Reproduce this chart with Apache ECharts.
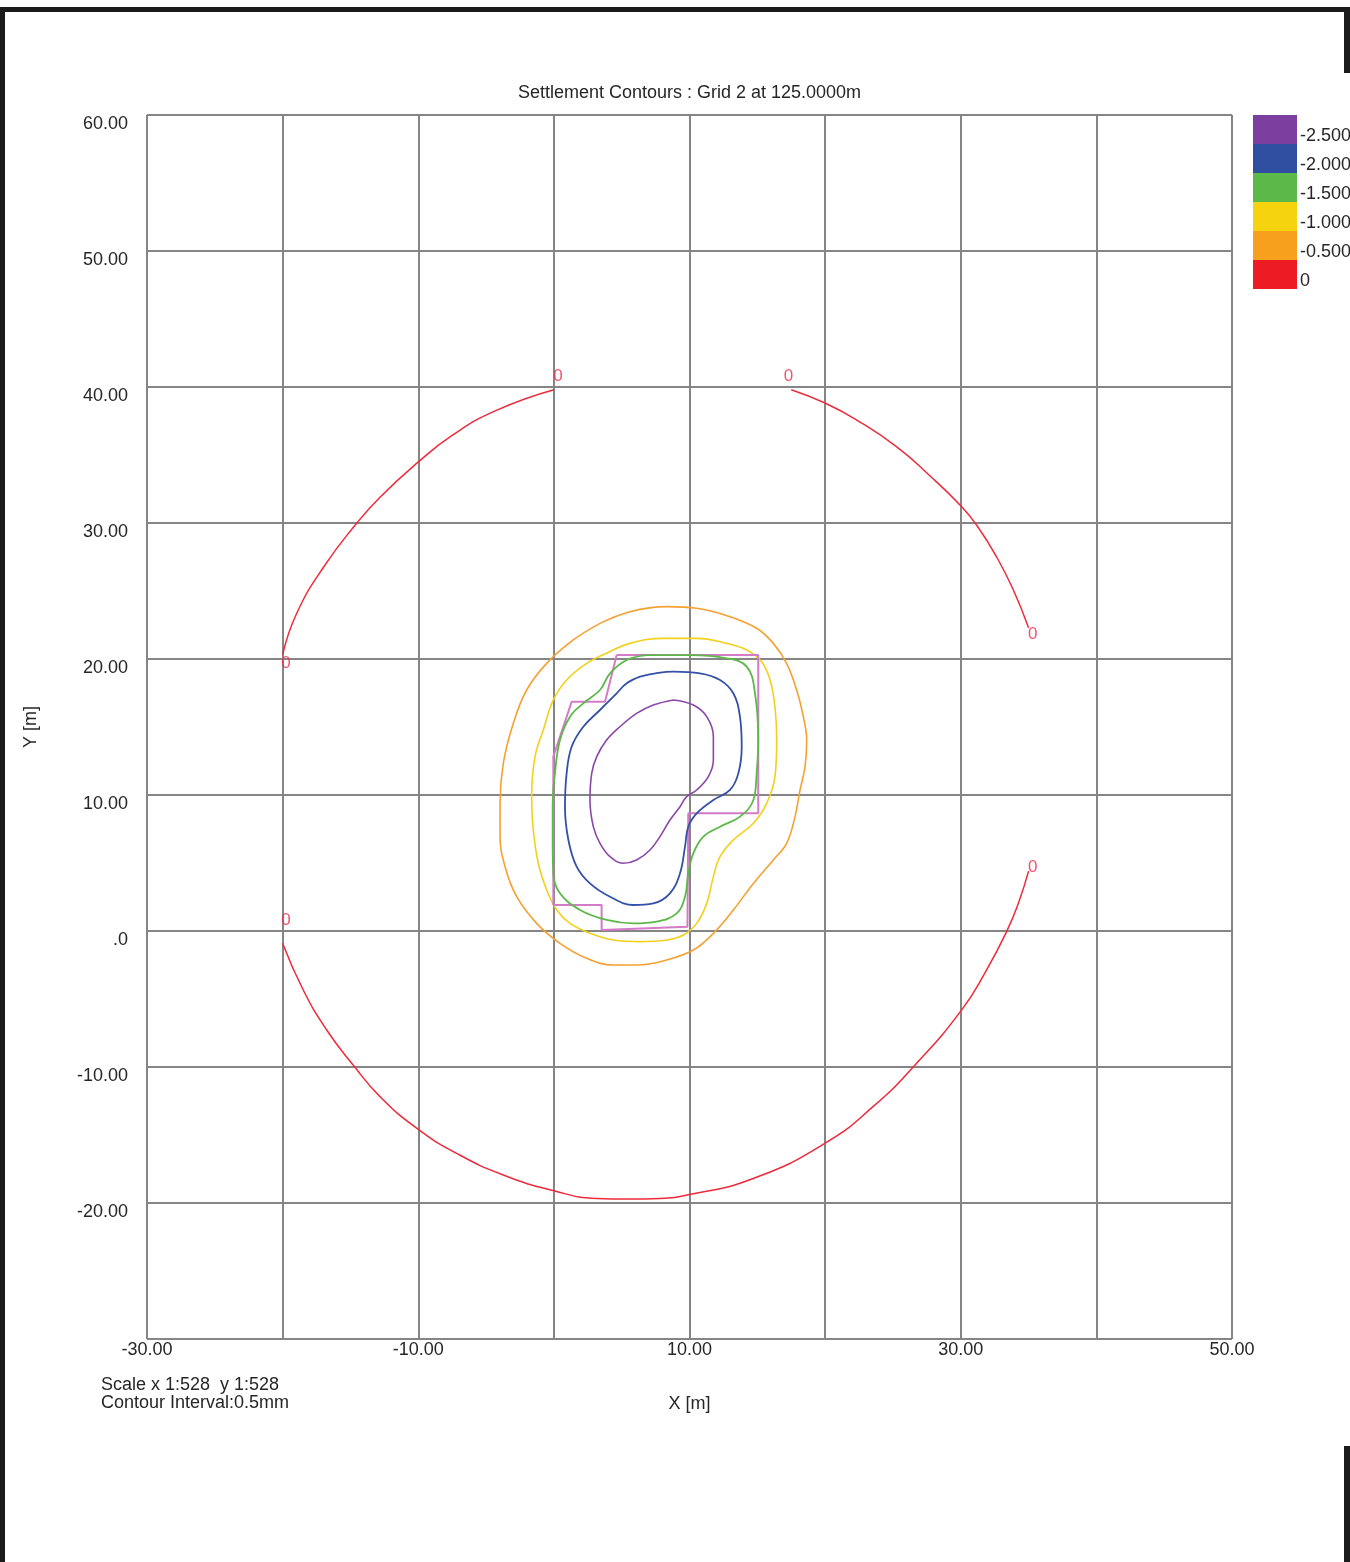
<!DOCTYPE html>
<html>
<head>
<meta charset="utf-8">
<script src="https://cdn.jsdelivr.net/npm/echarts@6/dist/echarts.min.js"></script>
<style>
html,body{margin:0;padding:0;background:#fff;}
#wrap{position:relative;width:1350px;height:1562px;overflow:hidden;}
#chart{position:absolute;left:0;top:0;width:1350px;height:1562px;}
.bar{position:absolute;background:#1b1b1b;z-index:5;}
</style>
</head>
<body>
<div id="wrap">
<div id="chart"></div>
<div class="bar" style="left:0;top:7px;width:1350px;height:5px;"></div>
<div class="bar" style="left:0;top:7px;width:5px;height:1555px;"></div>
<div class="bar" style="left:1344px;top:7px;width:6px;height:66px;"></div>
<div class="bar" style="left:1344px;top:1446px;width:6px;height:116px;"></div>
</div>
<script>
// ---- data (metres) ----
const xTicks = [-30, -20, -10, 0, 10, 20, 30, 40, 50];
const yTicks = [-30, -20, -10, 0, 10, 20, 30, 40, 50, 60];
const legendLabels = ['-2.500', '-2.000', '-1.500', '-1.000', '-0.500', '0'];
const legendColors = ['#7b3f9f', '#2f4e9f', '#5cb848', '#f5d30f', '#f6a01e', '#ed1c24'];

const arcTopLeft = [[-20.0,20.3],[-18.96,23.36],[-16.95,26.8],[-14.54,29.98],[-12.82,31.9],[-10.1,34.4],[-7.42,36.5],[-4.2,38.3],[0.0,39.8]];
const arcTopRight = [[17.5,39.8],[19.99,38.82],[22.33,37.57],[25.28,35.6],[27.66,33.53],[30.07,31.2],[31.17,29.85],[32.65,27.5],[33.88,25.07],[35.0,22.3]];
const arcBottom = [[-20.0,-0.9],[-18.48,-4.34],[-16.75,-7.28],[-14.74,-9.93],[-12.82,-12.18],[-10.12,-14.5],[-7.17,-16.35],[-3.73,-17.94],[0.0,-19.1],[3.16,-19.66],[5.5,-19.7],[7.83,-19.66],[9.9,-19.4],[14.7,-18.2],[20.0,-15.6],[23.55,-12.9],[26.63,-9.85],[30.07,-5.8],[31.9,-2.87],[33.38,-0.05],[34.25,2.04],[35.0,4.4]];
const zeroLabelPts = [[0.3,40.8],[17.3,40.8],[-19.75,19.7],[35.3,21.8],[-19.75,0.8],[35.3,4.7]];

const contourM05 = [[3.40,22.62],[5.61,23.48],[8.32,23.85],[10.53,23.73],[12.99,23.11],[14.95,22.26],[16.18,21.15],[17.16,19.68],[17.90,17.72],[18.39,15.76],[18.64,14.04],[18.52,12.08],[18.15,10.37],[17.78,8.41],[17.16,6.45],[16.18,5.22],[14.71,3.50],[13.23,1.54],[11.76,-0.17],[10.28,-1.40],[8.32,-2.13],[6.10,-2.50],[4.38,-2.50],[2.42,-2.01],[0.45,-0.91],[-1.27,0.56],[-2.74,2.52],[-3.60,4.73],[-3.97,6.94],[-3.97,9.39],[-3.73,12.33],[-2.99,15.27],[-2.01,17.72],[-0.53,19.68],[1.43,21.40],[3.40,22.62]];
const contourM10 = [[3.89,20.42],[5.61,21.15],[8.07,21.52],[10.53,21.52],[12.74,21.15],[14.22,20.66],[15.32,19.80],[15.94,18.46],[16.30,16.50],[16.43,14.04],[16.30,11.35],[15.69,9.39],[14.71,7.92],[13.23,6.69],[12.25,5.47],[11.76,4.00],[11.27,2.03],[10.53,0.56],[9.55,-0.29],[8.32,-0.66],[6.35,-0.78],[4.38,-0.66],[2.66,-0.17],[1.19,0.56],[0.21,1.54],[-0.53,3.02],[-1.15,4.98],[-1.52,7.43],[-1.64,9.88],[-1.39,12.82],[-0.78,14.78],[-0.04,16.99],[0.94,18.46],[2.42,19.68],[3.89,20.42]];
const contourM15 = [[6.84,20.29],[10.04,20.29],[12.74,20.05],[14.22,19.44],[14.83,17.48],[15.07,14.04],[14.95,11.59],[14.71,9.63],[13.72,8.41],[12.25,7.67],[11.02,6.94],[10.28,5.71],[9.91,4.24],[9.67,2.52],[9.05,1.30],[7.58,0.69],[5.86,0.56],[3.89,0.81],[1.93,1.54],[0.45,2.77],[-0.04,4.24],[-0.09,6.69],[-0.09,9.14],[0.08,11.59],[0.45,14.04],[1.19,15.76],[2.17,16.74],[3.40,17.72],[4.14,18.95],[5.37,19.93],[6.84,20.29]];
const contourM20 = [[6.35,18.70],[8.81,19.07],[10.77,18.95],[12.25,18.46],[13.23,17.48],[13.72,15.76],[13.85,13.55],[13.60,11.59],[12.99,10.37],[11.76,9.63],[10.53,8.65],[9.91,7.67],[9.67,6.20],[9.30,4.24],[8.56,2.77],[7.33,2.03],[5.86,1.91],[4.14,2.52],[2.66,3.50],[1.68,4.73],[1.07,6.69],[0.82,9.14],[0.94,11.59],[1.31,13.55],[2.17,15.02],[3.40,16.25],[4.63,17.48],[5.37,18.21],[6.35,18.70]];
const contourM25 = [[8.81,16.99],[10.28,16.62],[11.27,15.76],[11.76,14.29],[11.76,12.57],[11.39,11.35],[10.53,10.37],[9.79,9.88],[9.30,9.14],[8.56,8.16],[7.82,6.94],[7.09,5.96],[6.10,5.22],[5.12,4.98],[4.14,5.47],[3.40,6.45],[2.91,7.67],[2.66,9.63],[2.79,11.59],[3.16,12.82],[3.89,14.04],[4.87,15.02],[6.10,16.00],[7.33,16.62],[8.81,16.99]];
const footprint = [[4.63,20.29],[15.07,20.29],[15.07,8.65],[9.91,8.65],[9.85,0.32],[3.52,0.07],[3.52,1.91],[-0.04,1.91],[-0.04,12.82],[1.31,16.86],[3.77,16.86],[4.63,20.29]];

const FONT = '"Liberation Sans", Arial, sans-serif';
const TXT = '#262626';
const GRID = '#858585';

function lineSeries(name, data, color, smooth, width) {
  return {
    name: name, type: 'line', data: data, showSymbol: false, symbol: 'none',
    smooth: smooth, lineStyle: { color: color, width: width }, silent: true, z: 3
  };
}

const chart = echarts.init(document.getElementById('chart'), null, { renderer: 'canvas' });

const graphics = [];
legendColors.forEach(function (c, i) {
  graphics.push({ type: 'rect', left: 1253, top: 115 + i * 29, shape: { width: 44, height: 29 }, style: { fill: c } });
});
legendLabels.forEach(function (t, i) {
  graphics.push({ type: 'text', x: 1300, y: 115 + i * 29 + 21,
    style: { text: t, font: '18px ' + FONT, fill: TXT, align: 'left', verticalAlign: 'middle' } });
});
graphics.push({ type: 'text', x: 101, y: 1385, style: { text: 'Scale x 1:528  y 1:528', font: '18px ' + FONT, fill: TXT, align: 'left', verticalAlign: 'middle' } });
graphics.push({ type: 'text', x: 101, y: 1403, style: { text: 'Contour Interval:0.5mm', font: '18px ' + FONT, fill: TXT, align: 'left', verticalAlign: 'middle' } });

chart.setOption({
  animation: false,
  backgroundColor: '#ffffff',
  title: {
    text: 'Settlement Contours : Grid 2 at 125.0000m',
    left: 689.5, top: 84, textAlign: 'center', padding: 0,
    textStyle: { fontSize: 18, fontWeight: 'normal', fontFamily: FONT, color: TXT }
  },
  grid: { left: 147, right: 118, top: 115, bottom: 223, containLabel: false },
  xAxis: {
    type: 'value', min: xTicks[0], max: xTicks[xTicks.length - 1], interval: 10,
    name: 'X [m]', nameLocation: 'middle', nameGap: 56,
    nameTextStyle: { fontSize: 18, fontFamily: FONT, color: TXT },
    axisLine: { show: true, lineStyle: { color: GRID, width: 2 } },
    axisTick: { show: false },
    axisLabel: {
      margin: 2, fontSize: 18, fontFamily: FONT, color: TXT, verticalAlign: 'top',
      showMinLabel: true, showMaxLabel: true,
      formatter: function (v) { return ((v + 30) % 20 === 0) ? v.toFixed(2) : ''; }
    },
    splitLine: { show: true, lineStyle: { color: GRID, width: 2 } }
  },
  yAxis: {
    type: 'value', min: yTicks[0], max: yTicks[yTicks.length - 1], interval: 10,
    name: 'Y [m]', nameLocation: 'middle', nameGap: 107, nameRotate: 90,
    nameTextStyle: { fontSize: 18, fontFamily: FONT, color: TXT },
    axisLine: { show: true, lineStyle: { color: GRID, width: 2 } },
    axisTick: { show: false },
    axisLabel: {
      margin: 19, fontSize: 18, fontFamily: FONT, color: TXT, verticalAlign: 'top',
      showMinLabel: true, showMaxLabel: true,
      formatter: function (v) { if (v === -30) return ''; if (v === 0) return '.0'; return v.toFixed(2); }
    },
    splitLine: { show: true, lineStyle: { color: GRID, width: 2 } }
  },
  graphic: graphics,
  series: [
    lineSeries('0', arcTopLeft, '#ee2a3a', 0.5, 1.5),
    lineSeries('0', arcTopRight, '#ee2a3a', 0.5, 1.5),
    lineSeries('0', arcBottom, '#ee2a3a', 0.5, 1.5),
    lineSeries('-0.500', contourM05, '#f6a032', 0.4, 1.6),
    lineSeries('-1.000', contourM10, '#f3d01c', 0.4, 1.6),
    lineSeries('footprint', footprint, '#d37ac8', false, 2),
    lineSeries('-1.500', contourM15, '#5cb848', 0.4, 1.8),
    lineSeries('-2.000', contourM20, '#3450a8', 0.4, 1.8),
    lineSeries('-2.500', contourM25, '#8a48a8', 0.4, 1.6),
    {
      name: 'zeroLabels', type: 'scatter', data: zeroLabelPts, symbolSize: 1,
      itemStyle: { color: 'rgba(0,0,0,0)' }, silent: true, z: 4,
      label: { show: true, position: 'inside', formatter: '0', fontSize: 17, fontFamily: FONT, color: '#ec2a4a' }
    }
  ]
});
</script>
</body>
</html>
